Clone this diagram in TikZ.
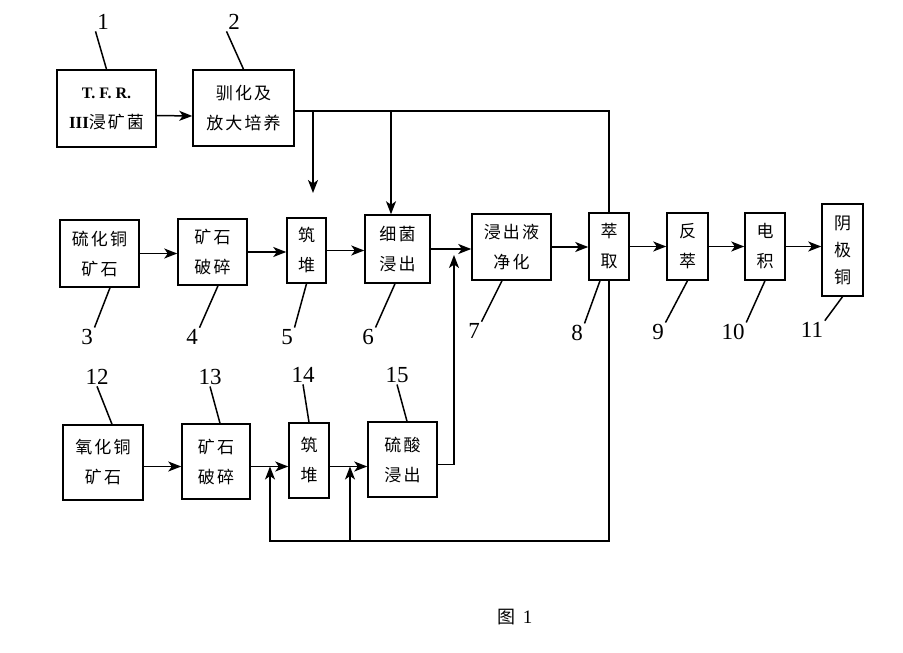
\documentclass[tikz,border=0pt]{standalone}
\usepackage{fontspec}
\setmainfont{Liberation Serif}
\newfontfamily\cjk[LetterSpace=12]{Noto Sans CJK SC}
\newfontfamily\cjkcap{Noto Sans CJK SC}
\usetikzlibrary{arrows.meta,calc}
\begin{document}
\begin{tikzpicture}[x=1pt,y=-1pt, line width=1.5pt,
  box/.style={draw, rectangle, inner sep=0pt, align=center, font=\cjk\fontsize{17}{30}\selectfont},
  tallbox/.style={box, font=\cjk\fontsize{17}{27}\selectfont},
  arr/.style={-{Stealth[length=13pt,width=10pt,inset=3.5pt]}},
  num/.style={font=\fontsize{23}{23}\selectfont, inner sep=1pt},
  lead/.style={line width=1.5pt}]
\fill[white] (0,0) rectangle (903,653);
\useasboundingbox (0,0) rectangle (903,653);
% boxes
\node[box, minimum width=99pt, minimum height=77pt] (b1) at (106.5,108.5) {{\rmfamily\bfseries\fontsize{16}{30}\selectfont T.\ F.\ R.}\\{\rmfamily\bfseries\fontsize{17}{30}\selectfont III}浸矿菌};
\node[box, minimum width=101pt, minimum height=76pt] (b2) at (243.5,108) {驯化及\\放大培养};
\node[box, minimum width=79pt, minimum height=67pt] (b3) at (99.5,253.5) {硫化铜\\矿石};
\node[box, minimum width=69pt, minimum height=66pt] (b4) at (212.5,252) {矿石\\破碎};
\node[box, minimum width=39pt, minimum height=65pt] (b5) at (306.5,250.5) {筑\\堆};
\node[box, minimum width=65pt, minimum height=68pt] (b6) at (397.5,249) {细菌\\浸出};
\node[box, minimum width=79pt, minimum height=66pt] (b7) at (511.5,247) {浸出液\\净化};
\node[box, minimum width=40pt, minimum height=67pt] (b8) at (609,246.5) {萃\\取};
\node[box, minimum width=41pt, minimum height=67pt] (b9) at (687.5,246.5) {反\\萃};
\node[box, minimum width=40pt, minimum height=67pt] (b10) at (765,246.5) {电\\积};
\node[tallbox, minimum width=41pt, minimum height=92pt] (b11) at (842.5,250) {阴\\极\\铜};
\node[box, minimum width=80pt, minimum height=75pt] (b12) at (103,462.5) {氧化铜\\矿石};
\node[box, minimum width=68pt, minimum height=75pt] (b13) at (216,461.5) {矿石\\破碎};
\node[box, minimum width=40pt, minimum height=75pt] (b14) at (309,460.5) {筑\\堆};
\node[box, minimum width=69pt, minimum height=75pt] (b15) at (402.5,459.5) {硫酸\\浸出};
% numbers
\node[num] (n1) at (103,22) {1};
\node[num] (n2) at (234,22) {2};
\node[num] (n3) at (87,337) {3};
\node[num] (n4) at (192,337) {4};
\node[num] (n5) at (287,337) {5};
\node[num] (n6) at (368,337) {6};
\node[num] (n7) at (474,331) {7};
\node[num] (n8) at (577,333) {8};
\node[num] (n9) at (658,332) {9};
\node[num] (n10) at (733,332) {10};
\node[num] (n11) at (812,330) {11};
\node[num] (n12) at (97,377) {12};
\node[num] (n13) at (210,377) {13};
\node[num] (n14) at (303,375) {14};
\node[num] (n15) at (397,375) {15};
% leaders
\draw[lead] (n1.south west) -- (b1.north);
\draw[lead] (n2.south west) -- (b2.north);
\draw[lead] (n3.north east) -- ($(b3.south)+(10.5,0)$);
\draw[lead] (n4.north east) -- ($(b4.south)+(5.5,0)$);
\draw[lead] (n5.north east) -- (b5.south);
\draw[lead] (n6.north east) -- ($(b6.south)+(-2.5,0)$);
\draw[lead] (n7.north east) -- ($(b7.south)+(-9.5,0)$);
\draw[lead] (n8.north east) -- ($(b8.south)+(-9,0)$);
\draw[lead] (n9.north east) -- (b9.south);
\draw[lead] (n10.north east) -- (b10.south);
\draw[lead] (n11.north east) -- (b11.south);
\draw[lead] (n12.south) -- ($(b12.north)+(9,0)$);
\draw[lead] (n13.south) -- ($(b13.north)+(4,0)$);
\draw[lead] (n14.south) -- (b14.north);
\draw[lead] (n15.south) -- ($(b15.north)+(4.5,0)$);
% top connectors
\draw[arr] ($(b1.east)+(0,7)$) -- ($(b2.west)+(0,8)$);
\coordinate (br1) at (313,111);
\coordinate (br2) at (391,111);
\coordinate (tip5) at (313,193);
\draw ($(b2.east)+(0,3)$) -| (b8.north);
\draw[arr] (br1) -- (tip5);
\draw[arr] (br2) -- (br2 |- b6.north);
% row 2
\draw[arr] (b3.east) -- (b3.east -| b4.west);
\draw[arr] (b4.east) -- (b4.east -| b5.west);
\draw[arr] (b5.east) -- (b5.east -| b6.west);
\draw[arr] (b6.east) -- (b6.east -| b7.west);
\draw[arr] (b7.east) -- (b7.east -| b8.west);
\draw[arr] (b8.east) -- (b8.east -| b9.west);
\draw[arr] (b9.east) -- (b9.east -| b10.west);
\draw[arr] (b10.east) -- (b10.east -| b11.west);
\coordinate (j1) at (454,249);
\draw[arr] ($(b15.east)+(0,5)$) -| ($(j1)+(0,6)$);
% row 3
\draw[arr] ($(b12.east)+(0,4)$) -- ($(b13.west)+(0,5)$);
\draw[arr] ($(b13.east)+(0,5)$) -- ($(b14.west)+(0,6)$);
\draw[arr] ($(b14.east)+(0,6)$) -- ($(b15.west)+(0,7)$);
\coordinate (j2) at (270,466.5);
\coordinate (j3) at (350,466.5);
\coordinate (lb) at (270,541);
\coordinate (lm) at (350,541);
\draw[arr] (b8.south) |- (lb) -- (j2);
\draw[arr] (lm) -- (j3);
% caption
\node[font=\cjkcap\fontsize{18}{18}\selectfont] (fig) at (515,617) {图\hspace{7pt}{\rmfamily\fontsize{19}{19}\selectfont 1}};
\end{tikzpicture}
\end{document}
